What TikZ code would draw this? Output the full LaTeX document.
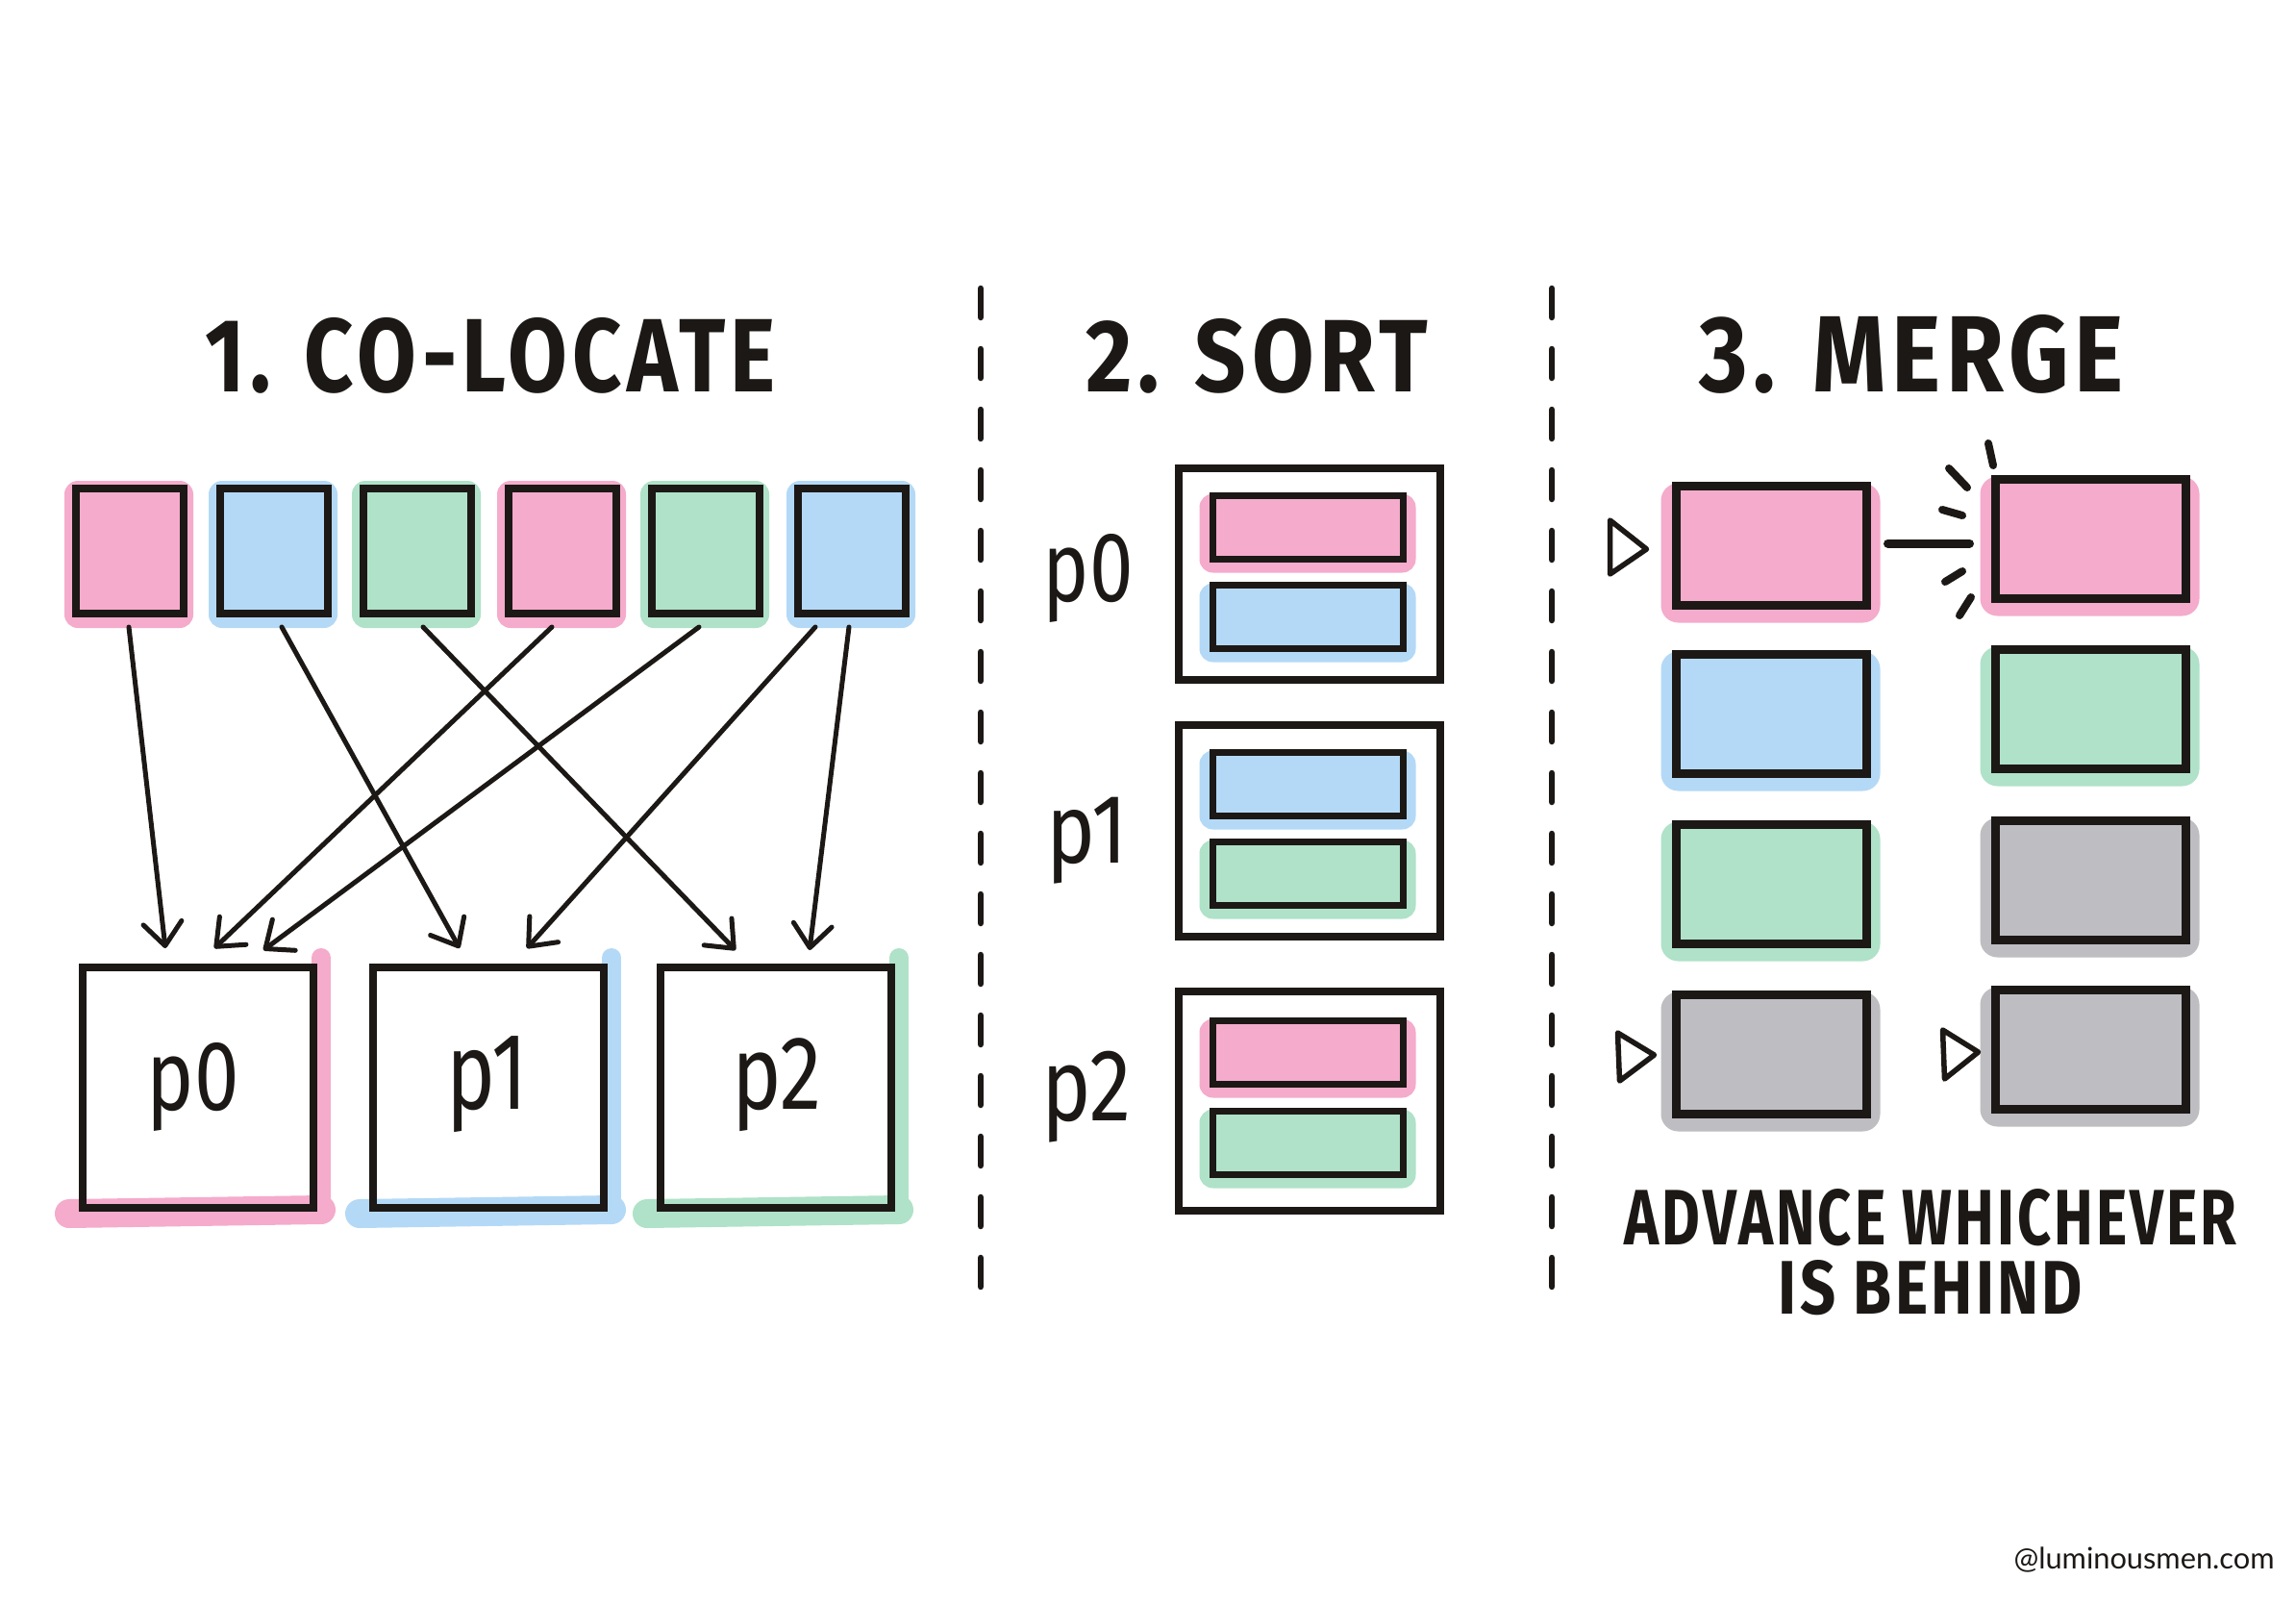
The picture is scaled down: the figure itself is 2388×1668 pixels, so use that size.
\documentclass[tikz,border=0pt]{standalone}
\usepackage{fontspec}
\setmainfont{Fira Sans}
\newfontfamily\wmfont{Lato}
\usetikzlibrary{arrows.meta,calc,backgrounds}
\definecolor{ink}{HTML}{1C1816}
\definecolor{pinkc}{HTML}{F5ABCB}
\definecolor{bluec}{HTML}{B4D9F6}
\definecolor{greenc}{HTML}{AFE2C8}
\definecolor{grayc}{HTML}{BEBDC1}
\begin{document}
\begin{tikzpicture}[x=1pt,y=-1pt,
  sq/.style={draw=ink,line width=8pt,minimum width=112pt,minimum height=130pt,inner sep=0pt},
  pbox/.style={draw=ink,line width=8pt,minimum width=240pt,minimum height=250pt,inner sep=0pt},
  obox/.style={draw=ink,line width=8.5pt,minimum width=272pt,minimum height=#1,inner sep=0pt},
  bar/.style={draw=ink,line width=7pt,minimum width=198pt,minimum height=66pt,inner sep=0pt},
  mbox/.style={draw=ink,line width=9pt,minimum width=198pt,minimum height=124pt,inner sep=0pt},
  lbl/.style={inner sep=0pt,text=ink},
  arr/.style={draw=ink,line width=5pt,line cap=round,-{Straight Barb[length=24pt,width=40pt,round]}},
  divider/.style={draw=ink,line width=6.5pt,line cap=round,dash pattern=on 30pt off 33pt},
  spark/.style={draw=ink,line width=8pt,line cap=round},
  conn/.style={draw=ink,line width=9pt,line cap=round},
  ptr/.style={draw=ink,line width=5.5pt,line join=round}
]
\useasboundingbox (0,0) rectangle (2388,1668);

% ---------- titles ----------
\node[lbl] (t1) at (510,370) {\resizebox{593pt}{77pt}{\bfseries\addfontfeature{LetterSpace=6} 1. CO-LOCATE}};
\node[lbl] (t2) at (1307,370) {\resizebox{355pt}{76pt}{\bfseries\addfontfeature{LetterSpace=6} 2. SORT}};
\node[lbl] (t3) at (1988,368) {\resizebox{441pt}{80pt}{\bfseries\addfontfeature{LetterSpace=6} 3. MERGE}};

% ---------- dividers ----------
\coordinate (d1a) at (1020,300);
\coordinate (d1b) at (1020,1356);
\coordinate (d2a) at (1614,300);
\coordinate (d2b) at (1614,1356);
\draw[divider] (d1a) -- (d1b);
\draw[divider] (d2a) -- (d2b);

% ---------- section 1 ----------
\foreach \n/\x in {s1/135,s2/285,s3/434,s4/585,s5/734,s6/886}
  \node[sq] (\n) at (\x,573) {};
\node[pbox] (p0) at (206,1131) {};
\node[pbox] (p1) at (508,1131) {};
\node[pbox] (p2) at (807,1131) {};
\node[lbl] (p0l) at (201,1130) {\resizebox*{96pt}{92pt}{p0}};
\node[lbl] (p1l) at (507,1128) {\resizebox*{84pt}{100pt}{p1}};
\node[lbl] (p2l) at (808,1128) {\resizebox*{93pt}{97pt}{p2}};

\draw[arr] ($(s1.south)+(-1,10)$) -- ($(p0.north)+(-34,-16)$);
\draw[arr] ($(s4.south)+(-11,10)$) -- ($(p0.north)+(17,-16)$);
\draw[arr] ($(s5.south)+(-7,10)$) -- ($(p0.north)+(68,-14)$);
\draw[arr] ($(s2.south)+(8,10)$) -- ($(p1.north)+(-30,-16)$);
\draw[arr] ($(s6.south)+(-38,10)$) -- ($(p1.north)+(40,-16)$);
\draw[arr] ($(s3.south)+(6,10)$) -- ($(p2.north)+(-42,-14)$);
\draw[arr] ($(s6.south)+(-3,10)$) -- ($(p2.north)+(35,-14)$);

% ---------- section 2 ----------
\node[obox=220pt] (b0) at (1362,597) {};
\node[obox=220pt] (b1) at (1362,864) {};
\node[obox=228pt] (b2) at (1362,1145) {};
\node[bar] (b0a) at (1360,548) {};
\node[bar] (b0b) at (1360,641) {};
\node[bar] (b1a) at (1360,815) {};
\node[bar] (b1b) at (1360,908) {};
\node[bar] (b2a) at (1360,1094) {};
\node[bar] (b2b) at (1360,1188) {};
\node[lbl] (q0) at (1132,601) {\resizebox*{94pt}{92pt}{p0}};
\node[lbl] (q1) at (1131,874) {\resizebox*{84pt}{90pt}{p1}};
\node[lbl] (q2) at (1130,1141) {\resizebox*{93pt}{95pt}{p2}};

% ---------- section 3 ----------
\node[mbox] (l1) at (1842,567) {};
\node[mbox] (l2) at (1842,742) {};
\node[mbox] (l3) at (1842,919) {};
\node[mbox] (l4) at (1842,1096) {};
\node[mbox] (r1) at (2174,560) {};
\node[mbox] (r2) at (2174,737) {};
\node[mbox] (r3) at (2174,915) {};
\node[mbox] (r4) at (2174,1091) {};

\draw[ptr] ($(l1.west)+(-64,-26)$) -- ($(l1.west)+(-26,4)$) -- ($(l1.west)+(-64,30)$) -- cycle;
\draw[ptr] ($(l4.west)+(-56,-22)$) -- ($(l4.west)+(-18,1)$) -- ($(l4.west)+(-54,28)$) -- cycle;
\draw[ptr] ($(r4.west)+(-50,-20)$) -- ($(r4.west)+(-13,3)$) -- ($(r4.west)+(-48,31)$) -- cycle;

\draw[conn] ($(l1.east)+(18,-2)$) -- ($(r1.west)+(-22,5)$);
\draw[spark] ($(r1.center)+(-106,-99)$) -- ($(r1.center)+(-101,-76)$);
\draw[spark] ($(r1.center)+(-147,-73)$) -- ($(r1.center)+(-128,-53)$);
\draw[spark] ($(r1.center)+(-154,-30)$) -- ($(r1.center)+(-133,-24)$);
\draw[spark] ($(r1.center)+(-151,45)$) -- ($(r1.center)+(-133,34)$);
\draw[spark] ($(r1.center)+(-136,80)$) -- ($(r1.center)+(-124,61)$);

\node[lbl,align=center] (adv) at (2008,1302)
  {\resizebox{637pt}{58pt}{\bfseries\addfontfeature{LetterSpace=5} ADVANCE WHICHEVER}\\[14pt]
   \resizebox{316pt}{56pt}{\bfseries\addfontfeature{LetterSpace=5} IS BEHIND}};
\node[lbl] (wm) at (2230,1622) {\resizebox{271pt}{!}{\wmfont @luminousmen.com}};

% ---------- colour underlays ----------
\begin{scope}[on background layer]
  \fill[white] (0,0) rectangle (2388,1668);
  \foreach \n/\c in {s1/pinkc,s2/bluec,s3/greenc,s4/pinkc,s5/greenc,s6/bluec}
    \fill[\c,rounded corners=14pt] ($(\n.south west)+(-8,11)$) rectangle ($(\n.north east)+(6,-4)$);
  \foreach \n/\c in {p0/pinkc,p1/bluec,p2/greenc}{
    \draw[\c,line width=30pt,line cap=round] ($(\n.south west)+(-10,2)$) -- ($(\n.south east)+(4,-2)$);
    \draw[\c,line width=20pt,line cap=round] ($(\n.north east)+(4,-6)$) -- ($(\n.south east)+(4,-2)$);
  }
  \foreach \n/\c in {b0a/pinkc,b0b/bluec,b1a/bluec,b1b/greenc,b2a/pinkc,b2b/greenc}
    \fill[\c,rounded corners=14pt] ($(\n.south west)+(-10,11)$) rectangle ($(\n.north east)+(10,2)$);
  \foreach \n/\c in {l1/pinkc,l2/bluec,l3/greenc,l4/grayc,r1/pinkc,r2/greenc,r3/grayc,r4/grayc}
    \fill[\c,rounded corners=18pt] ($(\n.south west)+(-11,14)$) rectangle ($(\n.north east)+(10,2)$);
\end{scope}
\end{tikzpicture}
\end{document}
